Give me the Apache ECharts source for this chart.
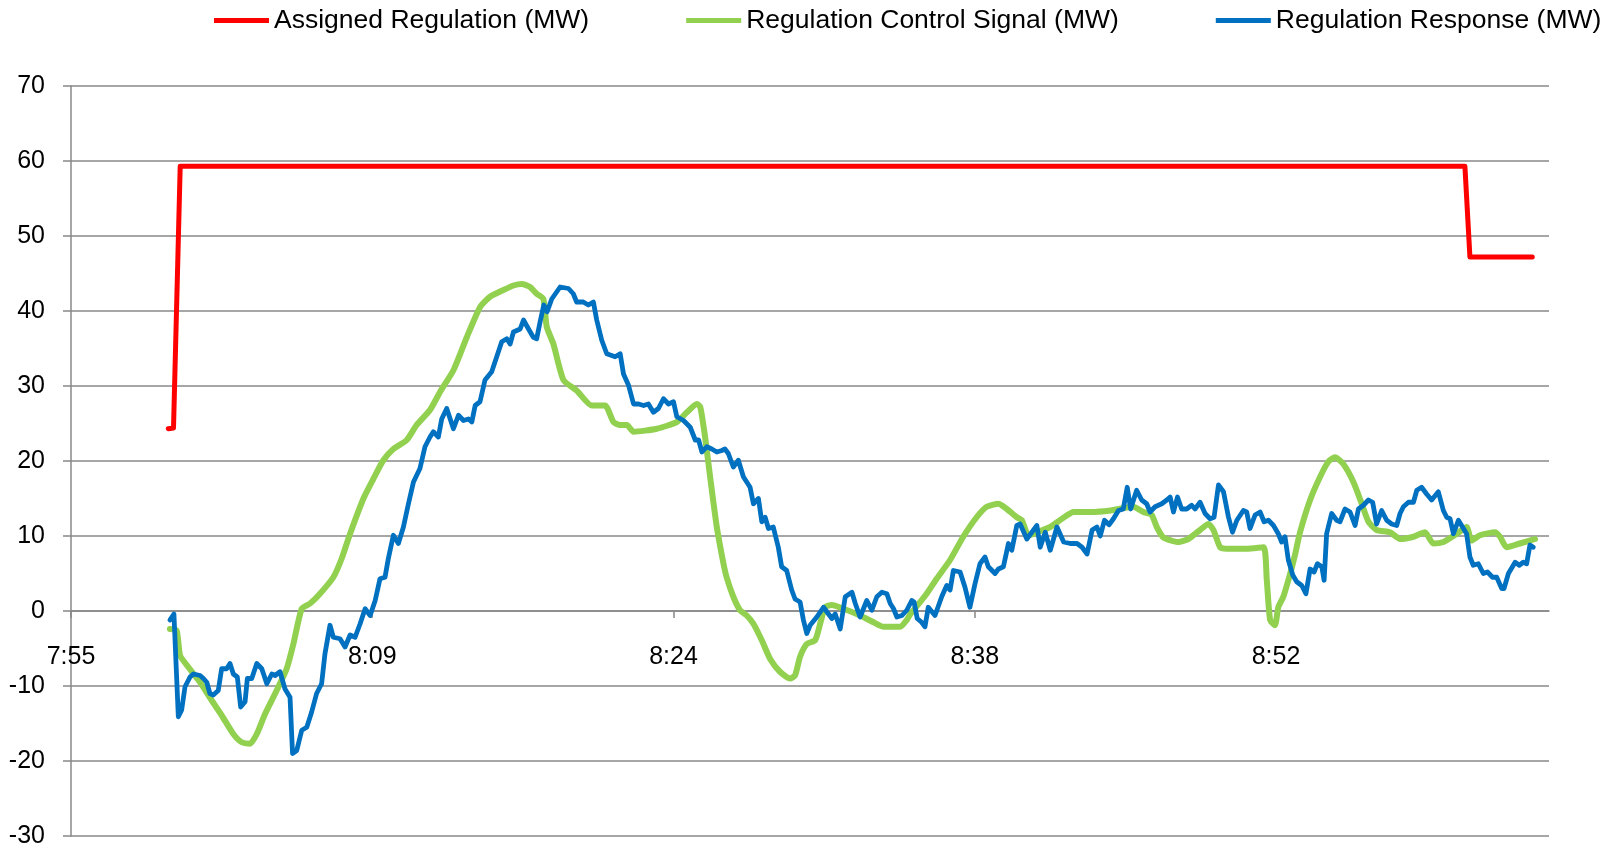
<!DOCTYPE html>
<html>
<head>
<meta charset="utf-8">
<script src="https://cdn.jsdelivr.net/npm/echarts@6/dist/echarts.min.js"></script>
<style>
html,body{margin:0;padding:0;background:#fff;}
#chart{width:1615px;height:851px;}
</style>
</head>
<body>
<div id="chart"></div>
<script>
// x values: minutes after 7:55
const tickValues = [0, 14.4, 28.8, 43.2, 57.6];
const tickLabels = ["7:55", "8:09", "8:24", "8:38", "8:52"];
const seriesNames = ["Assigned Regulation (MW)", "Regulation Control Signal (MW)", "Regulation Response (MW)"];

const assignedRegulation = [
  [4.65,24.3],[4.9,24.4],[5.22,59.3],[66.63,59.3],[66.87,47.2],[69.85,47.2]
];

const controlSignal = [
  [4.73,-2.4],[5.05,-2.6],[5.21,-5.9],[5.53,-7.2],[6.17,-9.5],[6.72,-11.9],[7.2,-13.9],[7.76,-16.4],
  [8.16,-17.5],[8.56,-17.7],[8.88,-16.4],[9.28,-13.7],[9.83,-10.6],[10.31,-7.7],[10.63,-4.4],[11.03,0.3],
  [11.43,1.0],[11.9,2.3],[12.54,4.5],[12.94,7.0],[13.34,10.3],[13.98,15.0],[14.45,17.6],[14.93,20.1],
  [15.41,21.6],[16.05,22.8],[16.52,24.8],[17.16,26.8],[17.64,29.2],[18.28,32.1],[18.92,36.5],[19.55,40.5],
  [20.03,41.9],[20.67,42.8],[21.15,43.4],[21.55,43.6],[21.94,43.2],[22.26,42.3],[22.58,41.6],[22.74,37.9],
  [23.06,35.6],[23.54,30.8],[24.17,29.4],[24.89,27.4],[25.53,27.4],[25.93,25.2],[26.25,24.8],[26.57,24.8],
  [26.89,23.9],[28.0,24.3],[28.96,25.2],[29.44,26.5],[29.92,27.6],[30.08,27.2],[30.31,23.2],[30.55,17.9],
  [30.87,11.2],[31.19,6.3],[31.34,4.5],[31.66,1.9],[31.98,0.1],[32.3,-0.6],[32.62,-1.7],[33.02,-3.9],
  [33.42,-6.4],[33.89,-8.1],[34.37,-9.0],[34.61,-8.6],[34.85,-6.1],[35.17,-4.4],[35.57,-3.9],[35.81,-1.7],
  [36.05,0.5],[36.37,0.8],[36.93,0.3],[37.72,-0.6],[38.36,-1.5],[38.84,-2.1],[39.64,-2.1],[39.95,-1.2],
  [40.1,-0.5],[40.42,0.6],[40.9,2.3],[41.38,4.3],[42.02,6.8],[42.65,9.9],[43.29,12.5],[43.77,13.9],
  [44.33,14.3],[44.73,13.6],[45.21,12.5],[45.45,12.1],[45.77,10.1],[46.17,10.5],[46.81,11.2],[47.37,12.3],
  [47.93,13.2],[48.73,13.2],[49.69,13.4],[50.78,13.9],[51.26,13.2],[51.66,12.8],[51.9,11.2],[52.22,9.8],
  [52.93,9.2],[53.41,9.6],[53.97,10.8],[54.37,11.6],[54.61,10.8],[54.93,8.5],[55.25,8.3],[56.2,8.3],
  [57.0,8.5],[57.16,4.1],[57.32,-1.2],[57.55,-1.9],[57.71,0.5],[57.95,1.9],[58.27,4.9],[58.51,7.5],
  [58.75,10.5],[59.23,14.8],[59.71,17.9],[60.1,19.9],[60.42,20.5],[60.82,19.6],[61.3,17.2],[61.7,14.3],
  [62.02,11.9],[62.41,10.8],[63.05,10.5],[63.53,9.6],[64.17,9.9],[64.72,10.5],[65.12,9.0],[65.6,9.2],
  [66.24,10.3],[66.71,11.2],[66.95,9.4],[67.35,10.1],[68.07,10.5],[68.31,9.9],[68.63,8.5],[69.26,9.0],
  [69.98,9.6]
];

const regulationResponse = [
  [4.73,-1.2],[4.92,-0.4],[5.13,-14.1],[5.29,-13.2],[5.45,-10.1],[5.69,-8.8],[5.85,-8.4],[6.17,-8.6],
  [6.33,-9.0],[6.49,-9.5],[6.64,-11.0],[6.8,-11.2],[7.04,-10.6],[7.2,-7.7],[7.44,-7.7],[7.6,-7.0],
  [7.76,-8.4],[7.95,-8.8],[8.11,-12.8],[8.32,-12.1],[8.43,-9.0],[8.64,-9.0],[8.88,-7.0],[9.12,-7.7],
  [9.36,-9.7],[9.6,-8.4],[9.76,-8.6],[9.99,-8.1],[10.23,-10.4],[10.47,-11.5],[10.59,-19.0],[10.79,-18.6],
  [11.03,-15.9],[11.27,-15.5],[11.5,-13.5],[11.74,-11.0],[11.98,-9.7],[12.14,-5.7],[12.38,-1.9],[12.54,-3.5],
  [12.86,-3.7],[13.1,-4.8],[13.34,-3.2],[13.58,-3.5],[13.82,-1.7],[14.06,0.3],[14.3,-0.6],[14.54,1.4],
  [14.77,4.3],[15.01,4.5],[15.17,7.0],[15.41,10.1],[15.65,9.0],[15.89,11.2],[16.13,14.3],[16.37,17.2],
  [16.68,19.0],[16.92,21.9],[17.16,23.2],[17.32,23.9],[17.56,23.2],[17.72,25.6],[17.96,27.0],[18.28,24.3],
  [18.52,26.1],[18.76,25.4],[19.0,25.6],[19.16,25.2],[19.32,27.4],[19.55,27.9],[19.79,30.8],[20.11,31.9],
  [20.35,33.9],[20.59,35.9],[20.83,36.3],[20.99,35.6],[21.15,37.2],[21.47,37.6],[21.63,38.8],[21.87,37.6],
  [22.1,36.5],[22.26,36.3],[22.42,38.5],[22.6,40.8],[22.76,39.9],[22.98,41.6],[23.38,43.2],[23.78,43.0],
  [24.01,42.3],[24.17,41.2],[24.49,41.2],[24.73,40.8],[24.97,41.2],[25.13,38.8],[25.37,36.1],[25.61,34.3],
  [26.01,33.9],[26.25,34.3],[26.41,31.6],[26.65,30.1],[26.89,27.6],[27.13,27.6],[27.37,27.4],[27.6,27.6],
  [27.84,26.5],[28.08,27.0],[28.32,28.3],[28.56,27.6],[28.8,27.9],[28.96,25.9],[29.28,25.4],[29.6,24.5],
  [29.84,22.8],[30.0,22.8],[30.16,21.2],[30.39,21.9],[30.63,21.6],[30.87,21.2],[31.11,21.4],[31.26,21.6],
  [31.42,21.0],[31.66,19.2],[31.9,20.1],[32.14,17.9],[32.46,16.5],[32.62,14.3],[32.86,15.0],[33.02,11.9],
  [33.18,12.5],[33.34,11.0],[33.57,11.2],[33.81,8.5],[33.97,5.9],[34.21,5.4],[34.45,2.8],[34.61,1.6],
  [34.85,1.2],[35.01,-1.2],[35.17,-3.0],[35.33,-1.9],[35.65,-0.8],[35.97,0.5],[36.21,-0.4],[36.37,-1.0],
  [36.53,-0.4],[36.77,-2.4],[37.01,1.9],[37.33,2.5],[37.49,1.0],[37.72,-0.8],[38.04,1.4],[38.28,0.1],
  [38.52,1.9],[38.76,2.5],[39.0,2.3],[39.16,1.0],[39.32,0.3],[39.48,-0.8],[39.72,-0.6],[39.95,0.1],
  [40.19,1.4],[40.3,1.2],[40.45,-1.0],[40.66,-1.5],[40.82,-2.1],[40.98,0.5],[41.3,-0.6],[41.62,1.9],
  [41.86,3.4],[42.02,2.8],[42.18,5.4],[42.5,5.2],[42.73,3.2],[42.97,0.5],[43.21,3.6],[43.45,6.3],
  [43.69,7.2],[43.85,5.9],[44.17,5.0],[44.33,5.6],[44.57,5.9],[44.81,9.0],[44.97,8.1],[45.21,11.4],
  [45.37,11.6],[45.69,9.6],[45.93,10.5],[46.17,11.4],[46.33,8.5],[46.57,10.5],[46.81,8.1],[47.13,11.2],
  [47.45,9.2],[47.77,9.0],[48.09,9.0],[48.33,8.5],[48.57,7.6],[48.81,10.8],[49.04,11.2],[49.2,10.0],
  [49.4,12.1],[49.62,11.5],[49.83,12.3],[50.07,13.4],[50.3,13.6],[50.49,16.5],[50.65,13.6],[50.94,16.1],
  [51.18,14.8],[51.42,14.3],[51.58,13.2],[51.82,13.9],[52.14,14.3],[52.38,14.8],[52.54,15.2],[52.7,13.2],
  [52.89,15.2],[53.09,13.6],[53.33,13.6],[53.57,14.1],[53.73,13.6],[53.97,14.5],[54.21,13.0],[54.45,12.3],
  [54.64,12.5],[54.85,16.8],[55.09,15.9],[55.33,12.5],[55.52,10.5],[55.73,12.1],[56.04,13.4],[56.2,13.2],
  [56.36,11.0],[56.6,12.8],[56.84,13.2],[57.03,11.9],[57.24,12.1],[57.48,11.4],[57.71,10.3],[57.87,9.2],
  [58.03,9.9],[58.19,6.8],[58.4,4.8],[58.59,3.9],[58.83,3.4],[59.03,2.3],[59.23,5.6],[59.42,5.2],
  [59.58,6.3],[59.79,5.9],[59.9,4.1],[60.02,10.3],[60.26,13.0],[60.5,12.1],[60.66,11.9],[60.9,13.6],
  [61.14,13.2],[61.38,11.4],[61.54,13.6],[61.78,14.1],[62.02,14.8],[62.22,14.5],[62.41,11.6],[62.65,13.4],
  [62.89,12.1],[63.13,11.6],[63.37,11.4],[63.53,13.0],[63.69,13.9],[63.93,14.5],[64.17,14.5],[64.33,16.1],
  [64.56,16.5],[64.8,15.6],[65.04,14.8],[65.36,15.9],[65.6,13.4],[65.76,12.5],[65.92,12.3],[66.08,10.3],
  [66.32,12.1],[66.56,11.0],[66.71,10.3],[66.87,7.2],[67.03,6.1],[67.27,6.3],[67.51,5.0],[67.71,5.2],
  [67.95,4.5],[68.15,4.5],[68.39,3.0],[68.5,3.0],[68.71,5.0],[69.03,6.5],[69.23,6.1],[69.42,6.5],
  [69.58,6.3],[69.74,8.8],[69.9,8.5]
];

const chart = echarts.init(document.getElementById('chart'), null, {renderer: 'canvas'});
const FONT = '"Liberation Sans", Arial, sans-serif';
const GRID_COLOR = '#888888';
const GRID_TOP = 86, GRID_BOTTOM = 15, H = 851;
const Y_MIN = -30, Y_MAX = 70;
// shift the x axis up so that it sits on the y = 0 line
const plotH = H - GRID_TOP - GRID_BOTTOM;
const zeroOffset = -plotH * (0 - Y_MIN) / (Y_MAX - Y_MIN);

chart.setOption({
  animation: false,
  backgroundColor: '#ffffff',
  textStyle: {fontFamily: FONT},
  legend: {
    top: 7,
    left: 214,
    padding: 0,
    itemGap: 97,
    itemWidth: 55,
    itemHeight: 5,
    icon: 'rect',
    textStyle: {fontFamily: FONT, fontSize: 26.5, color: '#000'},
    data: seriesNames
  },
  grid: {left: 71, right: 66, top: GRID_TOP, bottom: GRID_BOTTOM, containLabel: false, outerBoundsMode: 'none'},
  xAxis: {
    type: 'value',
    min: 0,
    max: 70.65,
    offset: zeroOffset,
    axisLine: {show: true, onZero: false, lineStyle: {color: GRID_COLOR, width: 1.5}},
    axisTick: {show: true, length: 7, customValues: tickValues, lineStyle: {color: GRID_COLOR, width: 1.5}},
    axisLabel: {
      customValues: tickValues,
      margin: 34,
      fontFamily: FONT,
      fontSize: 25,
      color: '#000',
      formatter: function (v) {
        let best = 0;
        for (let i = 0; i < tickValues.length; i++) {
          if (Math.abs(tickValues[i] - v) < Math.abs(tickValues[best] - v)) best = i;
        }
        return tickLabels[best];
      }
    },
    splitLine: {show: false}
  },
  yAxis: {
    type: 'value',
    min: Y_MIN,
    max: Y_MAX,
    interval: 10,
    axisLine: {show: true, lineStyle: {color: GRID_COLOR, width: 1.5}},
    axisTick: {show: true, length: 8, lineStyle: {color: GRID_COLOR, width: 1.5}},
    axisLabel: {margin: 26, fontFamily: FONT, fontSize: 25, color: '#000'},
    splitLine: {show: true, lineStyle: {color: GRID_COLOR, width: 1.5}}
  },
  series: [
    {
      name: seriesNames[0], type: 'line', data: assignedRegulation, showSymbol: false, symbol: 'none',
      itemStyle: {color: '#FF0000'},
      lineStyle: {color: '#FF0000', width: 5, cap: 'round', join: 'round'}, z: 2
    },
    {
      name: seriesNames[1], type: 'line', data: controlSignal, showSymbol: false, symbol: 'none', smooth: 0.2,
      itemStyle: {color: '#92D050'},
      lineStyle: {color: '#92D050', width: 6, cap: 'round', join: 'round'}, z: 3
    },
    {
      name: seriesNames[2], type: 'line', data: regulationResponse, showSymbol: false, symbol: 'none',
      itemStyle: {color: '#0070C0'},
      lineStyle: {color: '#0070C0', width: 4.8, cap: 'round', join: 'round'}, z: 4
    }
  ]
});
</script>
</body>
</html>
